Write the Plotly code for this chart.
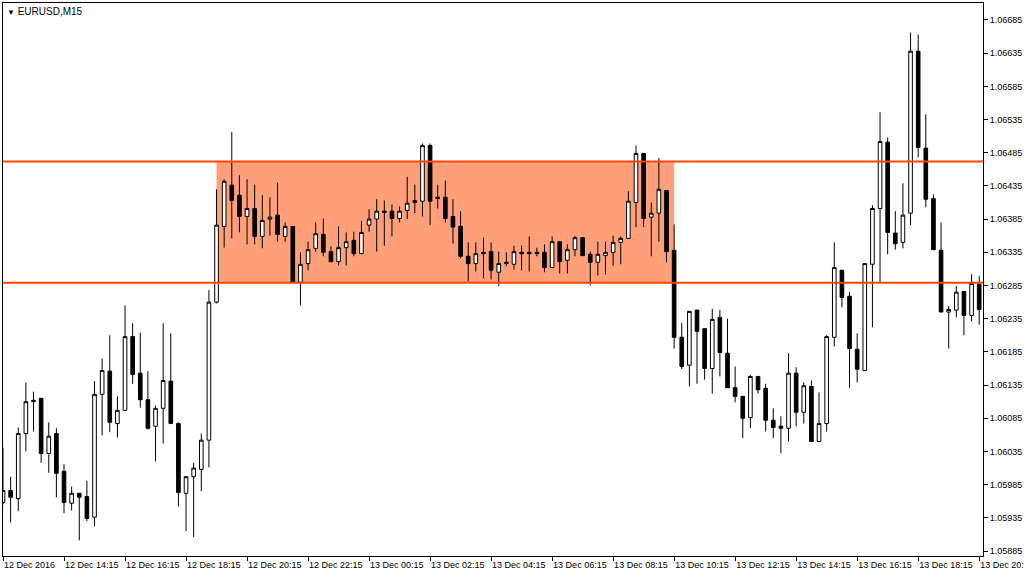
import pandas as pd
import plotly.graph_objects as go

# EURUSD M15, 12 Dec 2016 12:15 .. 13 Dec 2016 20:15
start = pd.Timestamp("2016-12-12 12:15")

opens = [
    1.05958, 1.05976, 1.05964, 1.06062, 1.06112, 1.06115, 1.06032, 1.06062, 1.06005, 1.05957,
    1.05972, 1.05967, 1.05936, 1.06121, 1.06156, 1.06077, 1.06097, 1.06208, 1.06153, 1.06113,
    1.06073, 1.06100, 1.06141, 1.06077, 1.05972, 1.05997, 1.06008, 1.06052, 1.06260, 1.06374,
    1.06436, 1.06421, 1.06389, 1.06401, 1.06359, 1.06385, 1.06391, 1.06359, 1.06374, 1.06290,
    1.06318, 1.06341, 1.06362, 1.06336, 1.06321, 1.06342, 1.06353, 1.06333, 1.06376, 1.06385,
    1.06397, 1.06397, 1.06386, 1.06398, 1.06410, 1.06412, 1.06496, 1.06418, 1.06418, 1.06389,
    1.06374, 1.06329, 1.06318, 1.06335, 1.06336, 1.06305, 1.06318, 1.06317, 1.06335, 1.06335,
    1.06335, 1.06335, 1.06312, 1.06351, 1.06323, 1.06339, 1.06357, 1.06332, 1.06320, 1.06330,
    1.06335, 1.06350, 1.06356, 1.06410, 1.06484, 1.06388, 1.06394, 1.06428, 1.06338, 1.06207,
    1.06165, 1.06248, 1.06220, 1.06160, 1.06237, 1.06183, 1.06131, 1.06118, 1.06086, 1.06148,
    1.06130, 1.06082, 1.06073, 1.06070, 1.06153, 1.06094, 1.06133, 1.06050, 1.06077, 1.06207,
    1.06308, 1.06269, 1.06189, 1.06157, 1.06317, 1.06401, 1.06501, 1.06364, 1.06350, 1.06394,
    1.06638, 1.06492, 1.06416, 1.06338, 1.06245, 1.06248, 1.06276, 1.06240, 1.06287,
]
highs = [
    1.06041, 1.05997, 1.06071, 1.06139, 1.06125, 1.06115, 1.06079, 1.06070, 1.06016, 1.05982,
    1.05972, 1.05991, 1.06141, 1.06175, 1.06210, 1.06118, 1.06255, 1.06228, 1.06214, 1.06156,
    1.06104, 1.06228, 1.06213, 1.06079, 1.05997, 1.06018, 1.06062, 1.06278, 1.06430, 1.06445,
    1.06516, 1.06451, 1.06445, 1.06437, 1.06421, 1.06418, 1.06440, 1.06380, 1.06374, 1.06335,
    1.06351, 1.06380, 1.06386, 1.06344, 1.06374, 1.06365, 1.06366, 1.06382, 1.06400, 1.06415,
    1.06413, 1.06407, 1.06404, 1.06449, 1.06437, 1.06499, 1.06499, 1.06437, 1.06443, 1.06415,
    1.06397, 1.06350, 1.06350, 1.06357, 1.06350, 1.06336, 1.06335, 1.06345, 1.06345, 1.06359,
    1.06342, 1.06347, 1.06359, 1.06351, 1.06347, 1.06360, 1.06357, 1.06336, 1.06351, 1.06351,
    1.06360, 1.06359, 1.06427, 1.06496, 1.06484, 1.06410, 1.06477, 1.06428, 1.06377, 1.06229,
    1.06246, 1.06248, 1.06220, 1.06250, 1.06248, 1.06235, 1.06163, 1.06118, 1.06150, 1.06148,
    1.06137, 1.06100, 1.06088, 1.06183, 1.06162, 1.06139, 1.06142, 1.06124, 1.06210, 1.06350,
    1.06308, 1.06275, 1.06213, 1.06318, 1.06406, 1.06546, 1.06508, 1.06397, 1.06439, 1.06666,
    1.06663, 1.06543, 1.06422, 1.06380, 1.06254, 1.06284, 1.06276, 1.06302, 1.06299,
]
lows = [
    1.05955, 1.05928, 1.05945, 1.06035, 1.06065, 1.06018, 1.06003, 1.05966, 1.05942, 1.05946,
    1.05901, 1.05930, 1.05922, 1.06059, 1.06064, 1.06056, 1.06097, 1.06137, 1.06101, 1.06068,
    1.06020, 1.06047, 1.06077, 1.05952, 1.05915, 1.05906, 1.05975, 1.06011, 1.06258, 1.06342,
    1.06356, 1.06365, 1.06347, 1.06347, 1.06341, 1.06360, 1.06351, 1.06351, 1.06291, 1.06255,
    1.06308, 1.06336, 1.06329, 1.06320, 1.06315, 1.06315, 1.06329, 1.06333, 1.06366, 1.06336,
    1.06345, 1.06359, 1.06380, 1.06385, 1.06394, 1.06389, 1.06376, 1.06401, 1.06380, 1.06348,
    1.06326, 1.06291, 1.06306, 1.06296, 1.06294, 1.06284, 1.06314, 1.06309, 1.06308, 1.06306,
    1.06329, 1.06305, 1.06312, 1.06303, 1.06303, 1.06329, 1.06330, 1.06285, 1.06300, 1.06302,
    1.06315, 1.06317, 1.06356, 1.06373, 1.06373, 1.06329, 1.06351, 1.06320, 1.06190, 1.06159,
    1.06133, 1.06137, 1.06143, 1.06122, 1.06148, 1.06131, 1.06109, 1.06055, 1.06070, 1.06122,
    1.06065, 1.06055, 1.06032, 1.06050, 1.06073, 1.06077, 1.06050, 1.06050, 1.06065, 1.06193,
    1.06252, 1.06131, 1.06139, 1.06156, 1.06222, 1.06290, 1.06332, 1.06339, 1.06341, 1.06376,
    1.06478, 1.06403, 1.06339, 1.06245, 1.06190, 1.06237, 1.06210, 1.06231, 1.06226,
]
closes = [
    1.05976, 1.05966, 1.06062, 1.06110, 1.06110, 1.06032, 1.06058, 1.06002, 1.05958, 1.05972,
    1.05966, 1.05934, 1.06121, 1.06157, 1.06079, 1.06097, 1.06208, 1.06151, 1.06113, 1.06070,
    1.06100, 1.06142, 1.06077, 1.05973, 1.05997, 1.06010, 1.06052, 1.06260, 1.06376, 1.06442,
    1.06413, 1.06389, 1.06401, 1.06359, 1.06383, 1.06388, 1.06362, 1.06374, 1.06291, 1.06317,
    1.06339, 1.06363, 1.06335, 1.06321, 1.06342, 1.06351, 1.06333, 1.06365, 1.06385, 1.06397,
    1.06395, 1.06386, 1.06397, 1.06409, 1.06413, 1.06496, 1.06412, 1.06416, 1.06386, 1.06373,
    1.06329, 1.06318, 1.06333, 1.06333, 1.06308, 1.06318, 1.06320, 1.06336, 1.06333, 1.06333,
    1.06333, 1.06312, 1.06351, 1.06321, 1.06339, 1.06357, 1.06330, 1.06320, 1.06332, 1.06335,
    1.06350, 1.06356, 1.06412, 1.06484, 1.06386, 1.06394, 1.06430, 1.06336, 1.06207, 1.06163,
    1.06246, 1.06216, 1.06160, 1.06234, 1.06184, 1.06131, 1.06118, 1.06085, 1.06148, 1.06128,
    1.06082, 1.06071, 1.06070, 1.06153, 1.06094, 1.06134, 1.06050, 1.06077, 1.06208, 1.06312,
    1.06267, 1.06190, 1.06159, 1.06318, 1.06401, 1.06502, 1.06365, 1.06348, 1.06391, 1.06638,
    1.06493, 1.06415, 1.06339, 1.06245, 1.06249, 1.06275, 1.06240, 1.06288, 1.06249,
]

# range box (bars 28..88) and the two level lines
box_from, box_to = 28, 88
level_top = 1.06472
level_bottom = 1.06289

times = pd.date_range(start, periods=len(opens), freq="15min")

tick_idx = list(range(0, len(times), 8))
tick_vals = [times[i] for i in tick_idx]
tick_text = ["12 Dec 2016"] + [t.strftime("%d %b %H:%M") for t in tick_vals[1:]]

fig = go.Figure(go.Candlestick(
    x=times, open=opens, high=highs, low=lows, close=closes,
    increasing=dict(line=dict(color="black", width=1), fillcolor="white"),
    decreasing=dict(line=dict(color="black", width=1), fillcolor="black"),
    whiskerwidth=0, hoverinfo="skip", showlegend=False,
))

fig.add_shape(type="rect", xref="x", yref="y",
              x0=times[box_from], x1=times[box_to], y0=level_bottom, y1=level_top,
              fillcolor="#FFA07A", line=dict(width=0), layer="below")
for lvl in (level_top, level_bottom):
    fig.add_shape(type="line", xref="paper", yref="y", x0=0, x1=1, y0=lvl, y1=lvl,
                  line=dict(color="#FF4500", width=2), layer="above")

fig.add_annotation(xref="paper", yref="paper", x=0.002, y=1, xanchor="left", yanchor="top",
                   yshift=-1, showarrow=False,
                   text="<span style='font-size:8px'>▼</span> EURUSD,M15",
                   font=dict(family="Liberation Sans", size=10, color="black"))

span = pd.Timedelta(minutes=15)
fig.update_layout(
    width=1024, height=576,
    margin=dict(l=3, r=41, t=3, b=20, autoexpand=False),
    paper_bgcolor="white", plot_bgcolor="white",
    boxgap=0.32,
    font=dict(family="Liberation Sans", size=9, color="black"),
    xaxis=dict(
        type="date", range=[times[0], times[0] + span * 128.5],
        rangeslider=dict(visible=False), showgrid=False, zeroline=False,
        showline=True, linecolor="black", linewidth=1, mirror=True,
        tickmode="array", tickvals=tick_vals, ticktext=tick_text,
        ticks="outside", ticklen=4, tickcolor="black", tickangle=0,
        ticklabelposition="outside right", ticklabeloverflow="allow",
        automargin=False,
    ),
    yaxis=dict(
        side="right", range=[1.058775, 1.067106], showgrid=False, zeroline=False,
        showline=True, linecolor="black", linewidth=1, mirror=True,
        tick0=1.05885, dtick=0.0005, tickformat=".5f",
        ticks="outside", ticklen=4, tickcolor="black",
        automargin=False,
    ),
)

fig.write_html("out.html", config={"displayModeBar": False},
               post_script="document.body.style.margin='0';")
